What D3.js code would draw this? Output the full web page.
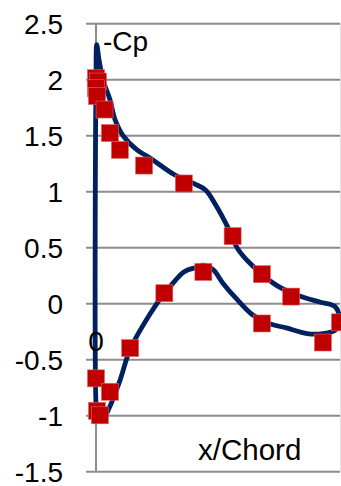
<!DOCTYPE html>
<html>
<head>
<meta charset="utf-8">
<script src="https://cdn.jsdelivr.net/npm/d3@7"></script>
<style>
  html, body { margin: 0; padding: 0; background: #fff; }
  svg { display: block; }
  text { font-family: "Liberation Sans", Arial, sans-serif; fill: #000; }
</style>
</head>
<body>
<svg id="chart" width="341" height="486"></svg>
<script>
// Computed -Cp curve (path traced around the airfoil: upper TE -> LE -> lower TE)
const curveX = [1.0, 0.98, 0.92, 0.84, 0.74, 0.63, 0.58, 0.54, 0.49, 0.45, 0.41, 0.32, 0.22, 0.168, 0.11, 0.078, 0.057, 0.029, 0.012, 0.003,
                0.0, 0.0, 0.005, 0.025, 0.053, 0.098, 0.14, 0.22, 0.28, 0.30, 0.36, 0.41, 0.44, 0.48, 0.52, 0.58, 0.64, 0.71, 0.78, 0.865, 0.93, 0.98, 1.0];
const curveCp = [-0.13, -0.03, 0.01, 0.06, 0.16, 0.36, 0.49, 0.68, 0.88, 1.01, 1.06, 1.15, 1.30, 1.37, 1.50, 1.64, 1.82, 1.99, 2.18, 2.31,
                 2.0, -0.9, -1.02, -1.05, -0.94, -0.69, -0.41, -0.10, 0.09, 0.14, 0.28, 0.32, 0.34, 0.30, 0.18, 0.03, -0.10, -0.18, -0.22, -0.27, -0.27, -0.24, -0.19];

// Experimental -Cp points
const expX = [0.0, 0.008, 0.0, 0.004, 0.035, 0.057, 0.098, 0.197, 0.36, 0.56, 0.68, 0.80, 1.0,
              0.0, 0.004, 0.016, 0.057, 0.14, 0.28, 0.44, 0.68, 0.93];
const expCp = [2.01, 1.98, 1.92, 1.85, 1.73, 1.52, 1.37, 1.23, 1.07, 0.60, 0.26, 0.06, -0.17,
               -0.67, -0.96, -1.00, -0.79, -0.40, 0.09, 0.28, -0.18, -0.35];

const yTicks = [2.5, 2, 1.5, 1, 0.5, 0, -0.5, -1, -1.5];

const svg = d3.select("#chart");
const x = d3.scaleLinear().domain([0, 1]).range([96, 340]);
const y = d3.scaleLinear().domain([-1.5, 2.5]).range([471.3, 23.3]);

// gridlines with tick stubs
const yAxis = d3.axisLeft(y).tickValues(yTicks).tickSize(-(340 - 86)).tickFormat(d3.format("")).tickPadding(23);
const gy = svg.append("g").attr("transform", "translate(86,0)").call(yAxis);
gy.select(".domain").remove();
gy.selectAll(".tick line").attr("stroke", "#8c8c8c").attr("stroke-width", 2);
gy.selectAll(".tick text")
  .attr("font-size", 28)
  .attr("font-family", "Liberation Sans, Arial, sans-serif")
  .attr("fill", "#000")
  .attr("dy", "0.36em")
  .text(d => String(d));

// y axis line
svg.append("line").attr("x1", x(0)).attr("x2", x(0)).attr("y1", y(2.5)).attr("y2", y(-1.5))
  .attr("stroke", "#8c8c8c").attr("stroke-width", 2);
// right plot border
svg.append("line").attr("x1", 340.5).attr("x2", 340.5).attr("y1", y(2.5)).attr("y2", y(-1.5))
  .attr("stroke", "#e2e2e2").attr("stroke-width", 1);

// computed curve
const pts = curveX.map((d, i) => [d, curveCp[i]]);
svg.append("path")
  .datum(pts)
  .attr("fill", "none")
  .attr("stroke", "#002060")
  .attr("stroke-width", 4.8)
  .attr("stroke-linejoin", "round")
  .attr("d", d3.line().x(d => x(d[0])).y(d => y(d[1])).curve(d3.curveCatmullRom.alpha(0.5)));

// experimental markers
const s = 17;
svg.append("g").selectAll("rect")
  .data(expX.map((d, i) => [d, expCp[i]]))
  .join("rect")
  .attr("x", d => x(d[0]) - s / 2)
  .attr("y", d => y(d[1]) - s / 2)
  .attr("width", s).attr("height", s)
  .attr("fill", "#c00000")
  .attr("stroke", "#e06666")
  .attr("stroke-width", 0.6);

// labels
svg.append("text").attr("x", 103).attr("y", 51).attr("font-size", 28).text("-Cp");
svg.append("text").attr("x", x(0)).attr("y", 351).attr("font-size", 28).attr("text-anchor", "middle").text("0");
svg.append("text").attr("x", 198).attr("y", 460).attr("font-size", 29.5).text("x/Chord");
</script>
</body>
</html>
